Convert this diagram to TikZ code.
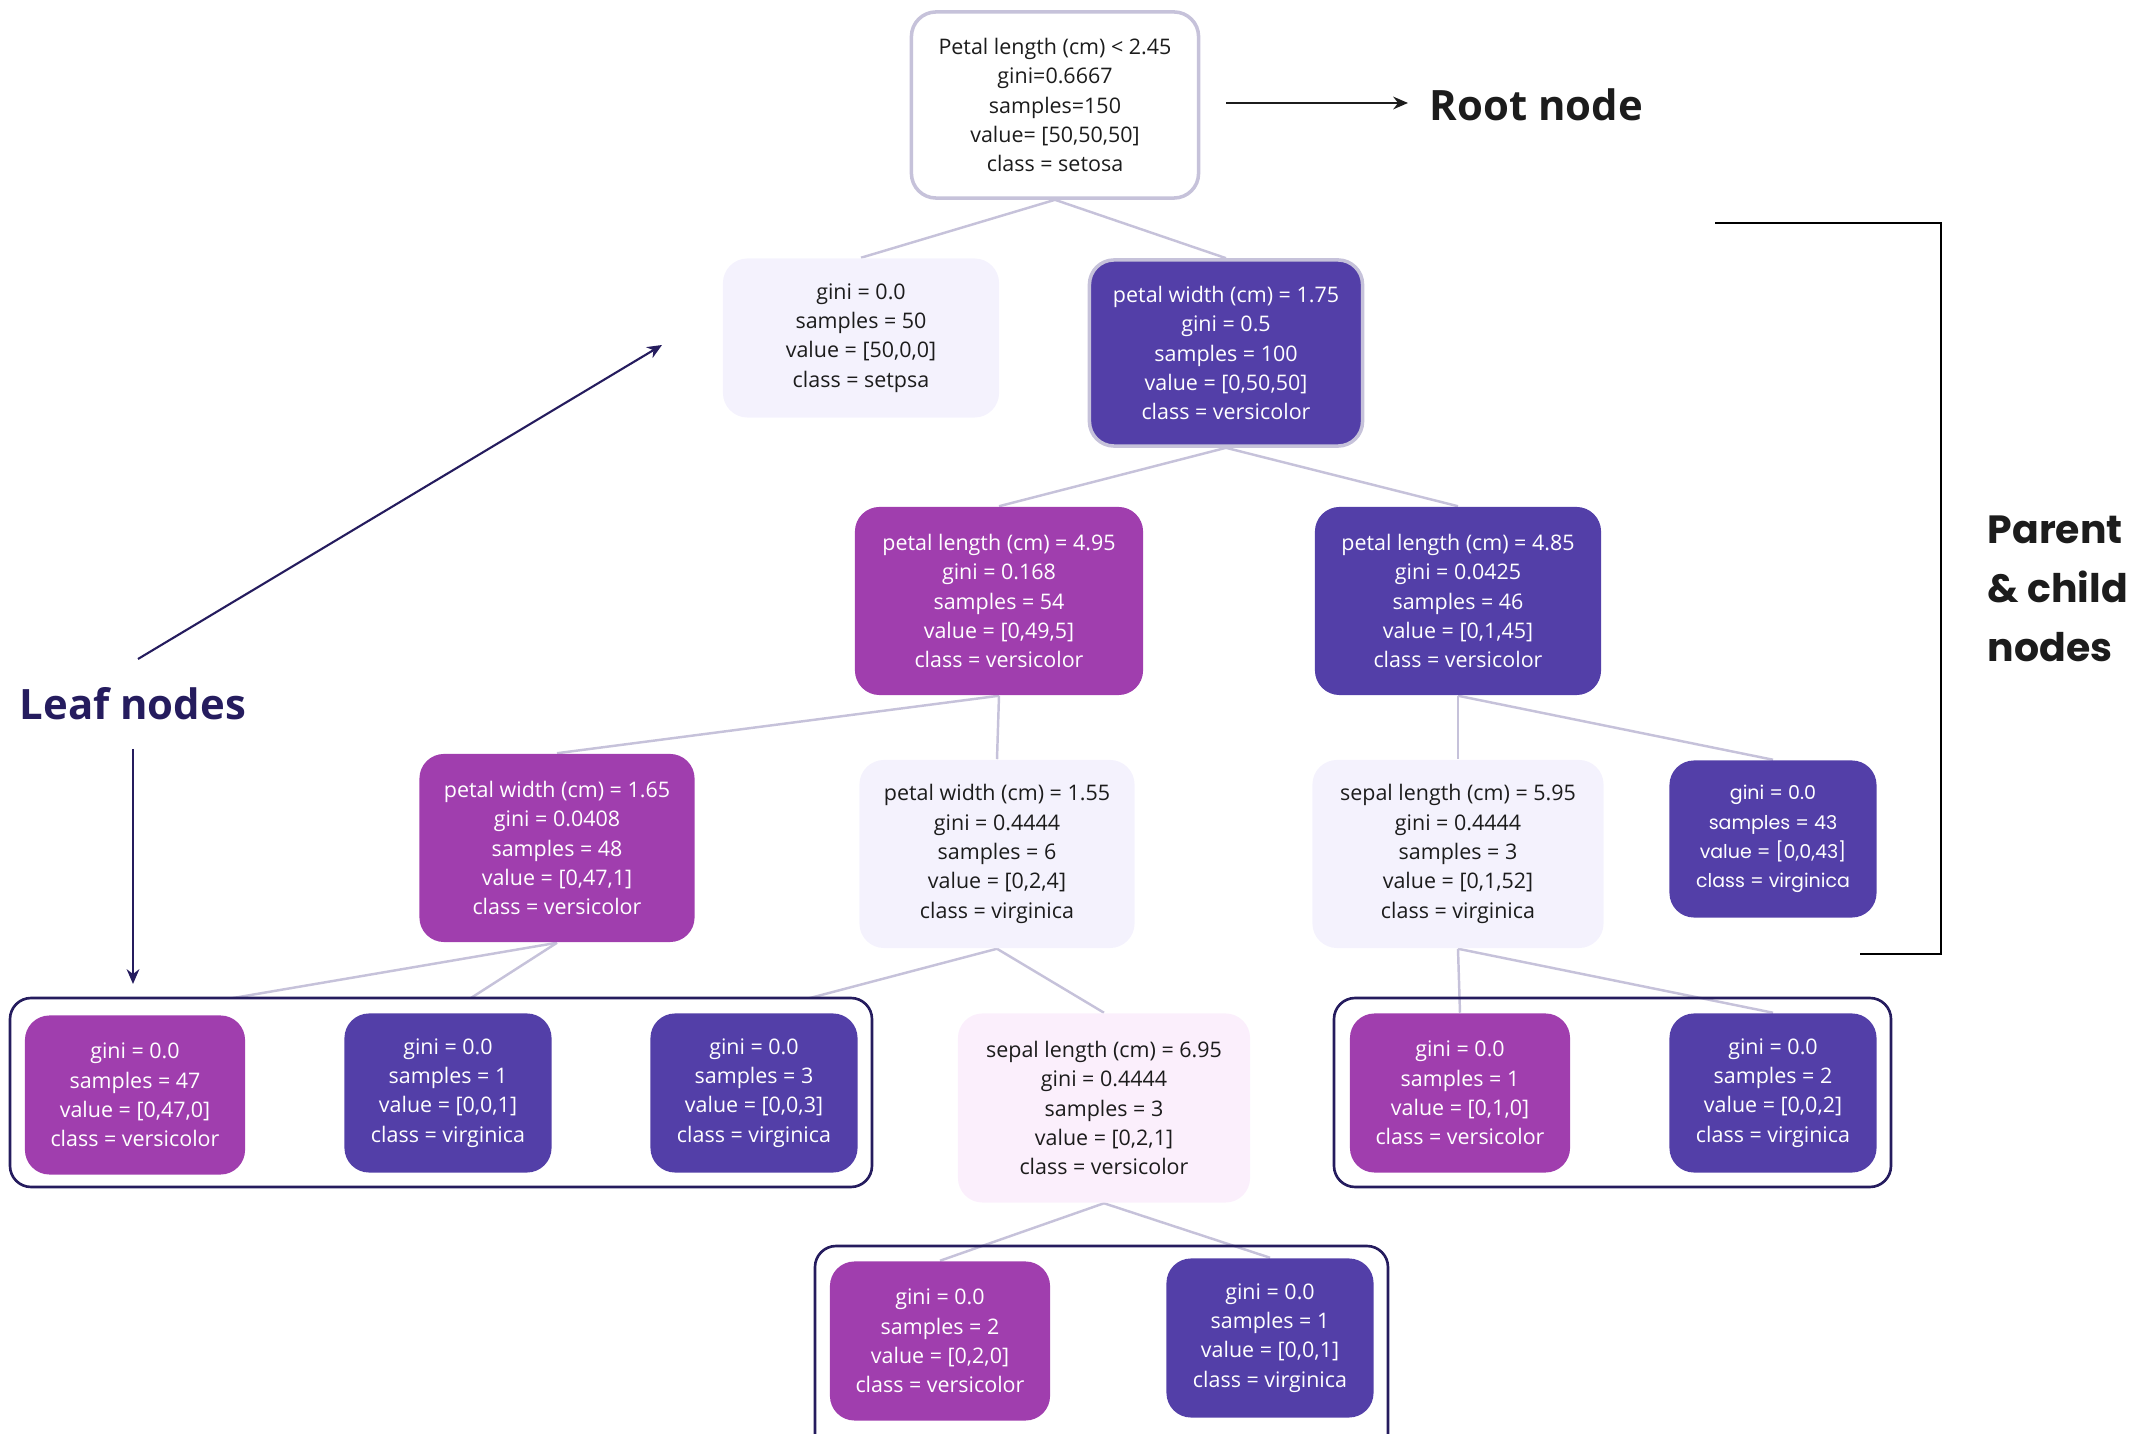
\documentclass[tikz,border=0pt]{standalone}
\usepackage{fontspec}
\setmainfont{Open Sans}
\newfontfamily\popfont{Poppins}
\usepackage{xcolor}
\usetikzlibrary{arrows.meta}

\definecolor{leafMag}{HTML}{A03EAE}
\definecolor{leafInd}{HTML}{533FA8}
\definecolor{paleLav}{HTML}{F4F2FD}
\definecolor{palePink}{HTML}{FBEFFC}
\definecolor{edgeGray}{HTML}{C6C2DA}
\definecolor{navyInk}{HTML}{251C5E}
\definecolor{darkInk}{HTML}{1C1C1C}

\pgfdeclarelayer{bg}
\pgfsetlayers{bg,main}

\begin{document}
\begin{tikzpicture}[x=0.01cm, y=-0.01cm, >={Stealth[length=4.2pt, width=3.6pt]},
    box/.style={rounded corners=7pt, align=center, inner sep=0pt,
        font=\fontsize{6.1}{8.35}\selectfont, minimum width=2.85cm, minimum height=1.88cm},
    split/.style={box, fill=#1, text=white},
    pale/.style={box, fill=#1, text=darkInk},
    leaf/.style={box, fill=#1, text=white, minimum width=2.07cm, minimum height=1.59cm},
    group/.style={draw=navyInk, line width=0.75pt, rounded corners=6pt},
    tie/.style={draw=edgeGray, line width=0.7pt},
    tag/.style={font=\bfseries\fontsize{11.9}{14}\selectfont, anchor=west, inner sep=0pt}]
    \useasboundingbox (0,0) rectangle (2144,1434);

    \node[pale=white, draw=edgeGray, line width=1pt, minimum width=2.87cm, minimum height=1.86cm] (root) at (1055,105)
        {Petal length (cm) < 2.45\\gini=0.6667\\samples=150\\value= [50,50,50]\\class = setosa};
    \node[pale=paleLav, minimum width=2.76cm, minimum height=1.59cm] (setpsa) at (861,338)
        {gini = 0.0\\samples = 50\\value = [50,0,0]\\class = setpsa};
    \node[split=leafInd, draw=edgeGray, line width=1pt, minimum width=2.73cm, minimum height=1.86cm] (pw175) at (1226,353)
        {petal width (cm) = 1.75\\gini = 0.5\\samples = 100\\value = [0,50,50]\\class = versicolor};
    \node[split=leafMag, minimum width=2.88cm] (pl495) at (999,601)
        {petal length (cm) = 4.95\\gini = 0.168\\samples = 54\\value = [0,49,5]\\class = versicolor};
    \node[split=leafInd, minimum width=2.86cm] (pl485) at (1458,601)
        {petal length (cm) = 4.85\\gini = 0.0425\\samples = 46\\value = [0,1,45]\\class = versicolor};
    \node[split=leafMag, minimum width=2.75cm] (pw165) at (557,848)
        {petal width (cm) = 1.65\\gini = 0.0408\\samples = 48\\value = [0,47,1]\\class = versicolor};
    \node[pale=paleLav, minimum width=2.75cm] (pw155) at (997,854)
        {petal width (cm) = 1.55\\gini = 0.4444\\samples = 6\\value = [0,2,4]\\class = virginica};
    \node[pale=paleLav, minimum width=2.91cm] (sl595) at (1458,854)
        {sepal length (cm) = 5.95\\gini = 0.4444\\samples = 3\\value = [0,1,52]\\class = virginica};
    \node[leaf=leafInd, minimum height=1.57cm, font=\popfont\fontsize{5.4}{8.3}\selectfont] (lf43) at (1773,839)
        {gini = 0.0\\samples = 43\\value = [0,0,43]\\class = virginica};
    \node[leaf=leafMag, minimum width=2.2cm] (lf47) at (135,1095)
        {gini = 0.0\\samples = 47\\value = [0,47,0]\\class = versicolor};
    \node[leaf=leafInd] (lf1) at (448,1093)
        {gini = 0.0\\samples = 1\\value = [0,0,1]\\class = virginica};
    \node[leaf=leafInd] (lf3) at (754,1093)
        {gini = 0.0\\samples = 3\\value = [0,0,3]\\class = virginica};
    \node[pale=palePink, minimum width=2.92cm, minimum height=1.89cm] (sl695) at (1104,1108)
        {sepal length (cm) = 6.95\\gini = 0.4444\\samples = 3\\value = [0,2,1]\\class = versicolor};
    \node[leaf=leafMag, minimum width=2.2cm] (lf010) at (1460,1093)
        {gini = 0.0\\samples = 1\\value = [0,1,0]\\class = versicolor};
    \node[leaf=leafInd] (lf002) at (1773,1093)
        {gini = 0.0\\samples = 2\\value = [0,0,2]\\class = virginica};
    \node[leaf=leafMag, minimum width=2.2cm] (lf020) at (940,1341)
        {gini = 0.0\\samples = 2\\value = [0,2,0]\\class = versicolor};
    \node[leaf=leafInd] (lf001) at (1270,1338)
        {gini = 0.0\\samples = 1\\value = [0,0,1]\\class = virginica};

    \begin{pgfonlayer}{bg}
        \foreach \a/\b in {root/setpsa, root/pw175, pw175/pl495, pw175/pl485, pl495/pw165, pl495/pw155,
                pl485/sl595, pl485/lf43, pw165/lf47, pw165/lf1, pw155/lf3, pw155/sl695,
                sl595/lf010, sl595/lf002, sl695/lf020, sl695/lf001}
            \draw[tie] (\a.south) -- (\b.north);
        \draw[group, fill=white] (10,998) rectangle (872,1187);
        \draw[group] (1334,998) rectangle (1891,1187);
        \draw[group] (815,1246) rectangle (1388,1480);
    \end{pgfonlayer}

    \node[tag, text=darkInk] (rootTag) at (1429,105) {Root node};
    \coordinate (rootFrom) at (1226,103);
    \coordinate (rootTo) at (1408,103);
    \draw[->, line width=0.6pt, darkInk] (rootFrom) -- (rootTo);

    \node[tag, text=navyInk] (leafTag) at (19,704) {Leaf nodes};
    \coordinate (leafUpFrom) at (138,659);
    \coordinate (leafUp) at (662,345);
    \coordinate (leafDownFrom) at (133,749);
    \coordinate (leafDown) at (133,984);
    \draw[->, line width=0.6pt, navyInk] (leafUpFrom) -- (leafUp);
    \draw[->, line width=0.6pt, navyInk] (leafDownFrom) -- (leafDown);

    \draw[line width=0.8pt, black] (1715,223) -- (1941,223) -- (1941,954) -- (1860,954);
    \node[anchor=west, align=left, inner sep=0pt, text=darkInk, font=\popfont\bfseries\fontsize{11.2}{16.8}\selectfont] (pcTag) at (1987,589)
        {Parent\\\& child\\nodes};
\end{tikzpicture}
\end{document}
